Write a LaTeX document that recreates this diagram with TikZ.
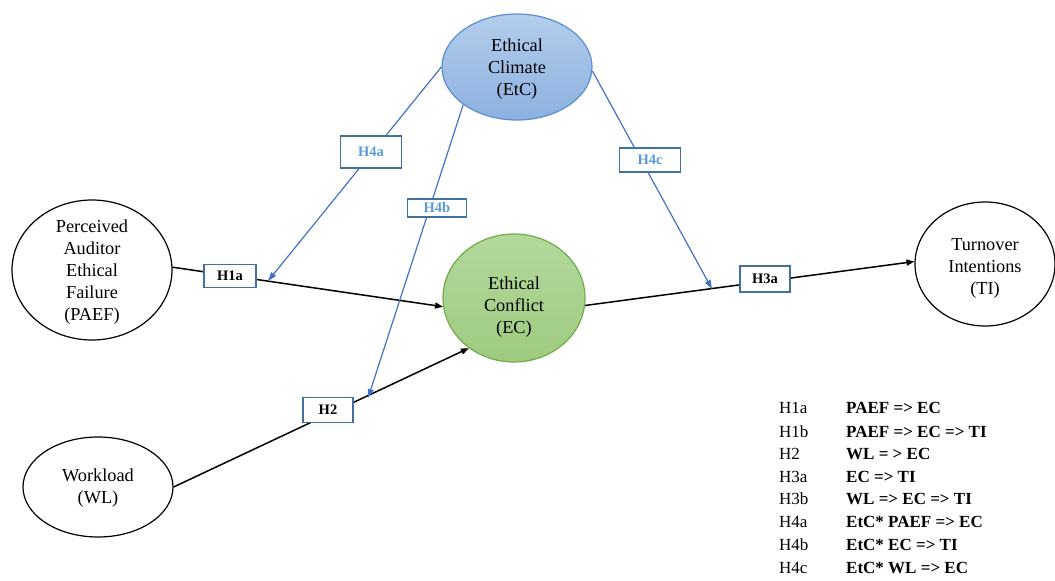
\documentclass[tikz,border=0pt]{standalone}
\usepackage{fontspec}
\setmainfont{Liberation Serif}
\usetikzlibrary{shapes.geometric,arrows.meta}
\definecolor{blueline}{HTML}{4472C4}
\definecolor{boxblue}{HTML}{41719C}
\definecolor{labblue}{HTML}{5B9BD5}
\definecolor{etctop}{HTML}{B4CDEC}
\definecolor{etcbot}{HTML}{8CB1DF}
\definecolor{etcdraw}{HTML}{5B8FD0}
\definecolor{ectop}{HTML}{B3D89C}
\definecolor{ecbot}{HTML}{9ECB80}
\definecolor{ecdraw}{HTML}{70AD47}
\tikzset{
  construct/.style={ellipse, inner sep=0pt},
  ctext/.style={align=center, inner sep=0pt, font=\fontsize{18.3}{22}\selectfont},
  plain/.style={construct, draw=black, line width=1.2pt, fill=white},
  hyp/.style={draw=boxblue, line width=1.4pt, fill=white, inner sep=0pt, font=\fontsize{14.5}{16}\selectfont\bfseries},
  blk/.style={draw=black, line width=1.5pt, -{Triangle[length=8pt,width=6pt]}},
  blu/.style={draw=blueline, line width=1.2pt, -{Triangle[length=9pt,width=6pt]}},
  legl/.style={anchor=base west, inner sep=0pt, font=\fontsize{17}{20}\selectfont},
  legr/.style={anchor=base west, inner sep=0pt, font=\fontsize{17}{20}\selectfont\bfseries},
}
\begin{document}
\begin{tikzpicture}[x=1pt,y=-1pt]
\useasboundingbox (0,0) rectangle (1055,581);

% constructs
\node[construct, minimum width=150pt, minimum height=106pt, draw=etcdraw, line width=1.2pt,
      top color=etctop, bottom color=etcbot,
      label={[ctext, yshift=-2pt]center:Ethical\\Climate\\(EtC)}] (etc) at (517,67) {};
\node[construct, minimum width=142pt, minimum height=128pt, draw=ecdraw, line width=1.2pt,
      top color=ectop, bottom color=ecbot,
      label={[ctext, yshift=-9pt]center:Ethical\\Conflict\\(EC)}] (ec) at (514,298) {};
\node[plain, minimum width=160pt, minimum height=140pt,
      label={[ctext, yshift=-2pt]center:Perceived\\Auditor\\Ethical\\Failure\\(PAEF)}] (paef) at (92,270) {};
\node[plain, minimum width=150pt, minimum height=100pt,
      label={[ctext, yshift=-1pt]center:Workload\\(WL)}] (wl) at (98,487) {};
\node[plain, minimum width=140pt, minimum height=124pt,
      label={[ctext, yshift=-4pt]center:Turnover\\Intentions\\(TI)}] (ti) at (985,264) {};

% moderation targets on the direct paths
\coordinate (a1) at (268,281);
\coordinate (a2) at (368,398);
\coordinate (a3) at (712,289);

% direct paths
\draw[blk] (paef.2) -- (ec.187);
\draw[blk] (wl.east) -- (ec.228);
\draw[blk] (ec.354) -- (ti.178);

% moderation paths
\draw[blu] (etc.180) -- (a1);
\draw[blu] (etc.215) -- (a2);
\draw[blu] (etc.357) -- (a3);

% hypothesis boxes
\node[hyp, minimum width=52pt, minimum height=23pt] (h1a) at (230,276) {H1a};
\node[hyp, minimum width=50pt, minimum height=25pt] (h2) at (328,410) {H2};
\node[hyp, minimum width=50pt, minimum height=26pt] (h3a) at (765,279) {H3a};
\node[hyp, minimum width=61pt, minimum height=32pt, text=labblue] (h4a) at (371,152) {H4a};
\node[hyp, minimum width=59pt, minimum height=18pt, text=labblue] (h4b) at (437,208) {H4b};
\node[hyp, minimum width=61pt, minimum height=24pt, text=labblue] (h4c) at (650,160) {H4c};

% legend
\foreach \k/\t/\y [count=\i] in {
  H1a/{PAEF => EC}/413,
  H1b/{PAEF => EC => TI}/437,
  H2/{WL = > EC}/459,
  H3a/{EC => TI}/482,
  H3b/{WL => EC => TI}/504,
  H4a/{EtC* PAEF => EC}/527,
  H4b/{EtC* EC => TI}/550,
  H4c/{EtC* WL => EC}/573} {
  \node[legl] (lk\i) at (779,\y) {\k};
  \node[legr] (lv\i) at (846,\y) {\t};
}
\end{tikzpicture}
\end{document}
